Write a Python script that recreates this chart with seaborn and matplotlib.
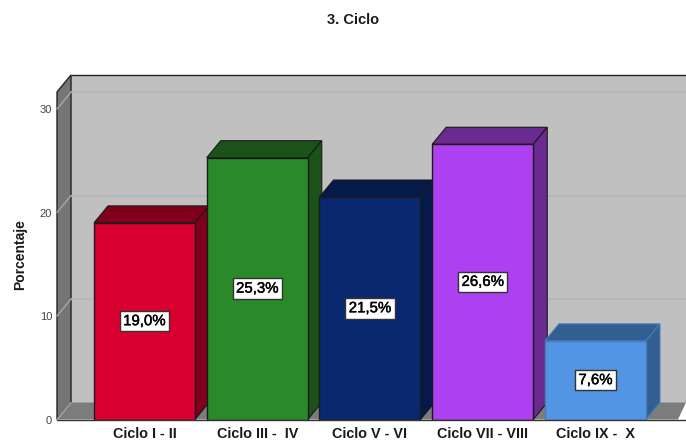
import matplotlib
matplotlib.use('Agg')
import matplotlib.pyplot as plt
import matplotlib.patheffects as pe
from matplotlib.patches import Polygon
from matplotlib.transforms import IdentityTransform
import seaborn as sns
import pandas as pd

categories = ['Ciclo I - II', 'Ciclo III -  IV', 'Ciclo V - VI', 'Ciclo VII - VIII', 'Ciclo IX -  X']
values = [19.0, 25.3, 21.5, 26.6, 7.6]
labels = ['19,0%', '25,3%', '21,5%', '26,6%', '7,6%']
yticks = [0, 10, 20, 30]
front_colors = ['#d9002f', '#2a8a2a', '#0a2870', '#ad40f0', '#5295e4']
dark_colors = ['#80001c', '#1a5218', '#061a4a', '#6b2a90', '#335e92']
edge_colors = ['#1a1a1a', '#1a1a1a', '#1a1a1a', '#1a1a1a', '#4a7cb8']

# depth of the fake 3d box, in pixels
dx, dy = 14, 17

sns.set_theme(style='white')
plt.rcParams['font.family'] = ['Liberation Sans', 'DejaVu Sans']

df = pd.DataFrame({'Ciclo': categories, 'Porcentaje': values})

fig = plt.figure(figsize=(6.86, 4.41), dpi=100)
ax = fig.add_axes([57 / 686, 21.5 / 441, 629 / 686, 327.5 / 441])
ax.patch.set_visible(False)

sns.barplot(x='Ciclo', y='Porcentaje', hue='Ciclo', data=df, palette=front_colors,
            width=0.896, legend=False, ax=ax, saturation=1, zorder=3)
ax.set_xlim(-0.776, 4.803)
ax.set_ylim(0, 31.65)
bars = sorted(ax.patches, key=lambda b: b.get_x())

fig.canvas.draw()
px = ax.transData.transform


def face(points, color, zorder, edge='none', lw=0.8):
    poly = Polygon(points, closed=True, facecolor=color, edgecolor=edge, linewidth=lw,
                   transform=IdentityTransform(), clip_on=False, zorder=zorder)
    ax.add_artist(poly)
    return poly


# walls and floor
(x0, y0), (x1, y1) = px((-0.776, 0)), px((4.803, 31.65))
face([(x0 + dx, y0 + dy), (x1, y0 + dy), (x1, y1 + dy), (x0 + dx, y1 + dy)], '#c0c0c0', 1)
face([(x0, y0), (x0 + dx, y0 + dy), (x0 + dx, y1 + dy), (x0, y1)], '#757575', 1.2, '#222222', 1.0)
face([(x0, y0), (x0 + dx, y0 + dy), (x1, y0 + dy), (x1 - 8, y0)], '#7c7c7c', 1.2)

# grid lines on both walls
for t in yticks:
    _, y = px((0, t))
    if t > 0:
        ax.plot([x0 + dx, x1], [y + dy, y + dy], color='#b6b6b6', lw=1.2,
                transform=IdentityTransform(), clip_on=False, zorder=1.5)
    ax.plot([x0, x0 + dx], [y, y + dy], color='#a8a8a8', lw=1.0,
            transform=IdentityTransform(), clip_on=False, zorder=1.5)

# outline of the box
ax.plot([x0 + dx, x1], [y1 + dy, y1 + dy], color='#222222', lw=1.0,
        transform=IdentityTransform(), clip_on=False, zorder=2)
ax.plot([x0, x1], [y0, y0], color='#333333', lw=1.0,
        transform=IdentityTransform(), clip_on=False, zorder=8)

# depth faces of the bars
for i, bar in enumerate(bars):
    z = 3 + i
    bar.set_zorder(z + 0.5)
    bar.set_edgecolor(edge_colors[i])
    bar.set_linewidth(1.0)
    left, right = bar.get_x(), bar.get_x() + bar.get_width()
    h = bar.get_height()
    (xa, ya), (xb, yb) = px((left, h)), px((right, 0))
    face([(xa, ya), (xb, ya), (xb + dx, ya + dy), (xa + dx, ya + dy)], dark_colors[i], z, edge_colors[i])
    face([(xb, yb), (xb, ya), (xb + dx, ya + dy), (xb + dx, yb + dy)], dark_colors[i], z, edge_colors[i])
    txt = ax.text((left + right) / 2, h / 2, labels[i], ha='center', va='center', fontsize=10.8,
                  color='black', zorder=9,
                  bbox=dict(boxstyle='square,pad=0.22', facecolor='white', edgecolor='#333333', linewidth=1.0))
    txt.set_path_effects([pe.withStroke(linewidth=0.3, foreground='black')])

sns.despine(ax=ax, left=True, bottom=True)
ax.set_yticks(yticks)
ax.set_yticklabels([str(t) for t in yticks], fontsize=8, color='#444444')
ax.tick_params(axis='y', length=0, pad=3.5)
ax.tick_params(axis='x', length=0, pad=5.5)
ax.set_xticks(range(len(categories)))
ax.set_xticklabels(categories, fontsize=10.4, fontweight='bold', color='#1a1a1a')
ax.set_xlabel('')
ax.set_ylabel('')
ax.grid(False)

fig.text(20.5 / 686, 1 - 255 / 441, 'Porcentaje', rotation=90, ha='center', va='center',
         fontsize=10, fontweight='bold', color='#1a1a1a')
fig.text(353 / 686, 1 - 20 / 441, '3. Ciclo', ha='center', va='center',
         fontsize=10.5, fontweight='bold', color='#1a1a1a')

fig.savefig('out.png', dpi=100)
